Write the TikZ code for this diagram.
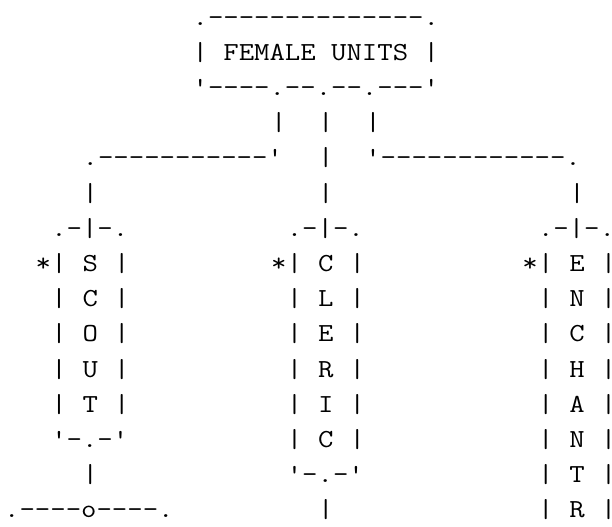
\documentclass[tikz,border=0pt]{standalone}
\usepackage{fontspec}
\usepackage{tikz}
\usetikzlibrary{positioning}

\tikzset{chr/.style={anchor=base west,inner sep=0pt,outer sep=0pt,font=\ttfamily\fontsize{26}{26}\selectfont}}
\newcommand{\wide}[1]{\scalebox{1.15}[1]{#1}}

\begin{document}
\begin{tikzpicture}[x=15.7pt,y=-35.2pt]
  \useasboundingbox (-0.2675,-0.7102) rectangle (38.713,14.261);
  \node[chr] (headtop) at (12,0) {\wide{.--------------.}};
  \node[chr] (head) at (12,1) {\wide{| FEMALE UNITS |}};
  \node[chr] (headbot) at (12,2) {\wide{'----.--.--.---'}};
  \foreach \c/\name in {17/left,20/mid,23/right}{
    \node[chr] (drop-\name) at (\c,3) {\wide{|}};
  }
  \node[chr] (armleft) at (5,4) {\wide{.-----------'}};
  \node[chr] (armmid) at (20,4) {\wide{|}};
  \node[chr] (armright) at (23,4) {\wide{'------------.}};
  \foreach \c/\name in {5/left,20/mid,36/right}{
    \node[chr] (stem-\name) at (\c,5) {\wide{|}};
  }
  \foreach \name/\col/\letters in {scout/3/{S,C,O,U,T},cleric/18/{C,L,E,R,I,C},enchantr/34/{E,N,C,H,A,N,T,R}}{
    \node[chr] (\name-top) at (\col,6) {\wide{.-|-.}};
    \node[chr] (\name-star) at (\col-1,7) {\wide{*}};
    \foreach \ch [count=\i] in \letters{
      \node[chr] (\name-l\i) at (\col,6+\i) {\wide{|}};
      \node[chr] (\name-\i) at (\col+2,6+\i) {\wide{\ch}};
      \node[chr] (\name-r\i) at (\col+4,6+\i) {\wide{|}};
    }
  }
  \node[chr] (scout-bot) at (3,12) {\wide{'-.-'}};
  \node[chr] (scout-stem) at (5,13) {\wide{|}};
  \node[chr] (scout-bar) at (0,14) {\wide{.----o----.}};
  \node[chr] (cleric-bot) at (18,13) {\wide{'-.-'}};
  \node[chr] (cleric-stem) at (20,14) {\wide{|}};
\end{tikzpicture}
\end{document}
